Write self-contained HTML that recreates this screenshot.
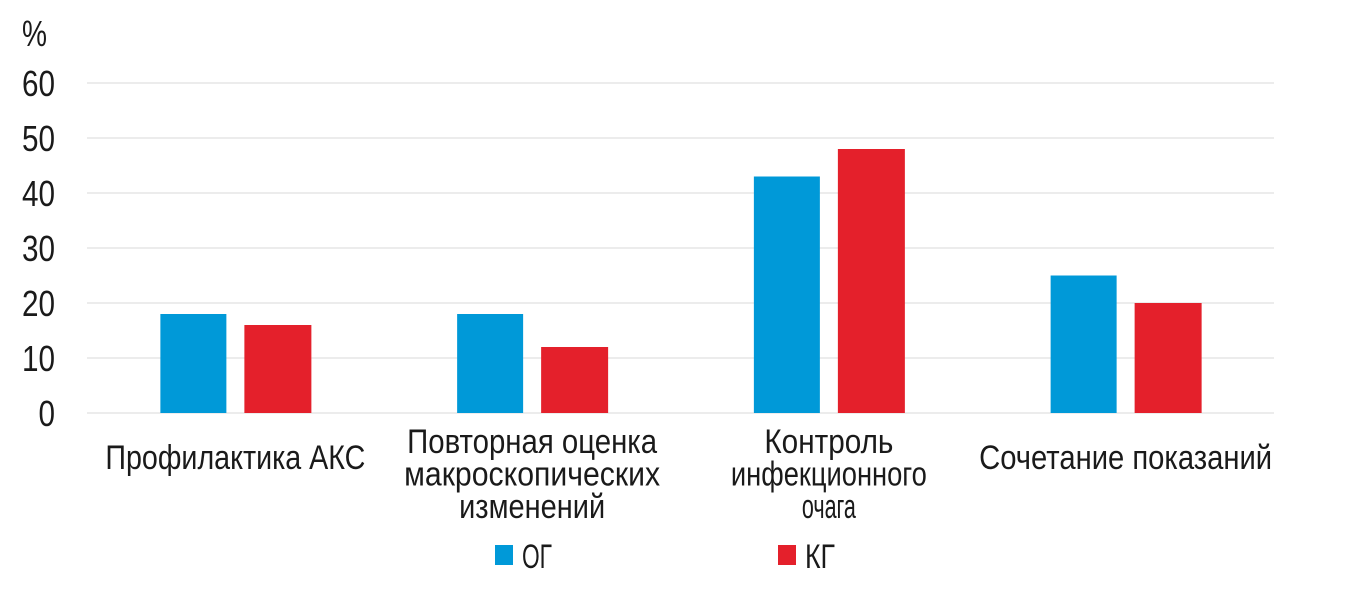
<!DOCTYPE html>
<html><head><meta charset="utf-8"><style>
body{margin:0;background:#fff;}
svg text{font-family:"Liberation Sans Narrow","Liberation Sans",sans-serif;fill:#1a1a1a;}
</style></head><body>
<svg id="chart" width="1362" height="603" xmlns="http://www.w3.org/2000/svg">
<text x="22" y="46" font-size="36" textLength="25" lengthAdjust="spacingAndGlyphs">%</text>
<g id="grid"></g><g id="bars"></g><g id="labels"></g>
<g>
<rect x="495" y="545" width="18" height="20" fill="#0099d8"/>
<text x="522" y="568" font-size="34" textLength="30" lengthAdjust="spacingAndGlyphs">ОГ</text>
<rect x="778" y="545" width="18" height="20" fill="#e4202b"/>
<text x="805" y="568" font-size="34" textLength="30" lengthAdjust="spacingAndGlyphs">КГ</text>
</g>
</svg>
<script>
const categories=[["Профилактика АКС"],["Повторная оценка","макроскопических","изменений"],["Контроль","инфекционного","очага"],["Сочетание показаний"]];
const labelWidths=[[260],[250,256,146],[129,196,54],[293]];
const ogValues=[18,18,43,25];
const kgValues=[16,12,48,20];
const ticks=[0,10,20,30,40,50,60];
const NS="http://www.w3.org/2000/svg";
const x0=87,x1=1274,y0=413,y60=83;
const yS=v=>y0-(y0-y60)*v/60;
const bw=(x1-x0)/categories.length;
const cx=i=>x0+bw*(i+0.5);
function mk(t,a,p){const e=document.createElementNS(NS,t);for(const k in a)e.setAttribute(k,a[k]);p.appendChild(e);return e;}
const grid=document.getElementById('grid');
ticks.forEach(t=>{
 const l=mk('line',{x1:x0,x2:x1,y1:yS(t),y2:yS(t),stroke:'#ececec','stroke-width':2},grid);
 
 
 const tx=mk('text',{x:55,y:yS(t)+13,'font-size':36,'text-anchor':'end',textLength:String(t).length*16.5,lengthAdjust:'spacingAndGlyphs'},grid);
 tx.textContent=t;
 
 
});
const bars=document.getElementById('bars');
categories.forEach((c,i)=>{
 const b1=mk('rect',{x:cx(i)-75,y:yS(ogValues[i]),width:66,height:y0-yS(ogValues[i]),fill:'#0099d8'},bars);
 
 
 const b2=mk('rect',{x:cx(i)+9,y:yS(kgValues[i]),width:67,height:y0-yS(kgValues[i]),fill:'#e4202b'},bars);
 
 
 const n=c.length;
 c.forEach((line,j)=>{
  const by=n===1?469:453+j*32.5;
  const t=mk('text',{x:cx(i),y:by,'font-size':34,'text-anchor':'middle',textLength:labelWidths[i][j],lengthAdjust:'spacingAndGlyphs'},document.getElementById('labels'));
  t.textContent=line;
  
  
 });
});
</script>
</body></html>
